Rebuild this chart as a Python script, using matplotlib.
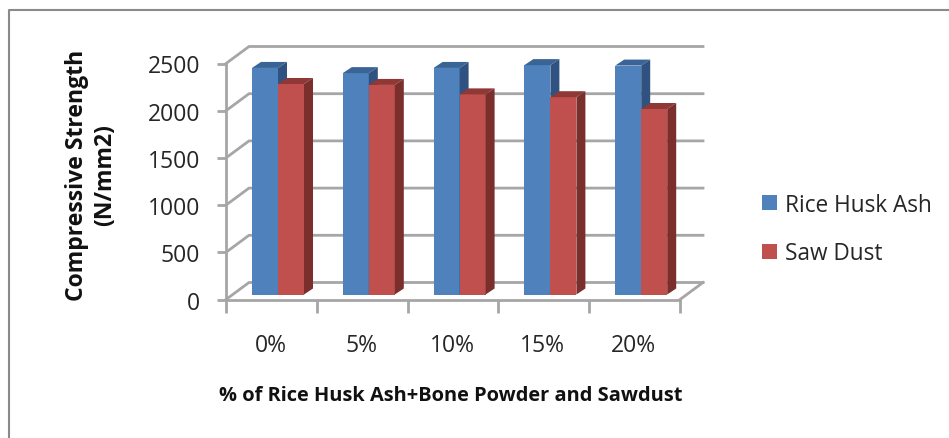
import matplotlib
matplotlib.use("Agg")
import matplotlib.pyplot as plt
from matplotlib.patches import Polygon, Rectangle

plt.rcParams["font.family"] = ["Open Sans", "DejaVu Sans"]

W, H = 949, 439

categories = ["0%", "5%", "10%", "15%", "20%"]
rice_husk = [2400, 2345, 2400, 2430, 2425]
saw_dust = [2230, 2220, 2120, 2090, 1965]
y_ticks = [0, 500, 1000, 1500, 2000, 2500]

GRID = "#a6a6a6"
TEXT = "#262626"
BLUE, BLUE_TOP, BLUE_SIDE = "#4f81bd", "#3a6496", "#2f5280"
RED, RED_TOP, RED_SIDE = "#c0504d", "#8f3836", "#7a2f2d"

# depth of the fake 3d box, in data units (px / scale)
X_SCALE = 90.8
Y_SCALE = 236 / 2500
DX = 23 / X_SCALE
DY = 17 / Y_SCALE
# bars sit a little way into the box
BAR_DX = 9 / X_SCALE
BAR_DY = 6 / Y_SCALE
BASE = 5 / Y_SCALE
BAR_W = 26 / X_SCALE
BAR_START = 26 / X_SCALE


def px_axes(left, top, right, bottom):
    return [left / W, 1 - bottom / H, (right - left) / W, (bottom - top) / H]


fig = plt.figure(figsize=(W / 100, H / 100), dpi=100, facecolor="white")
ax = fig.add_axes(px_axes(226, 64.5, 680, 300.5))
ax.set_xlim(0, len(categories))
ax.set_ylim(0, 2500)
ax.patch.set_visible(False)
for s in ax.spines.values():
    s.set_visible(False)

# wall and floor lines
for v in y_ticks:
    ax.plot([0, DX, len(categories) + DX], [v, v + DY, v + DY], color=GRID, lw=2,
            clip_on=False, zorder=1, solid_joinstyle="miter")
ax.plot([len(categories), len(categories) + DX], [0, DY], color=GRID, lw=2, clip_on=False, zorder=1)
ax.plot([0, len(categories)], [0, 0], color=GRID, lw=2, clip_on=False, zorder=2)
ax.plot([0, 0], [0, 2500], color=GRID, lw=2, clip_on=False, zorder=2)

ax.set_xticks(range(len(categories) + 1))
ax.set_xticklabels([])
ax.set_yticks(y_ticks)
ax.set_yticklabels([str(v) for v in y_ticks], fontsize=16.5, color=TEXT)
ax.tick_params(axis="x", length=9, width=2, color=GRID, direction="out", pad=0)
ax.tick_params(axis="y", length=6.5, width=2, color=GRID, direction="out", pad=12)
for i, c in enumerate(categories):
    ax.annotate(c, (i + 0.5, 0), xytext=(-1, -52), textcoords="offset pixels", ha="center",
                va="baseline", fontsize=16.5, color=TEXT, annotation_clip=False)


def draw_bar(x, val, front, top, side, z):
    ax.bar(x, val, BAR_W, bottom=BASE, align="edge", color=front, zorder=z, clip_on=False)
    t = BASE + val
    ax.add_patch(Polygon([(x, t), (x + BAR_DX, t + BAR_DY), (x + BAR_W + BAR_DX, t + BAR_DY), (x + BAR_W, t)],
                         closed=True, fc=top, ec="none", zorder=z, clip_on=False))
    ax.add_patch(Polygon([(x + BAR_W, BASE), (x + BAR_W + BAR_DX, BASE + BAR_DY),
                          (x + BAR_W + BAR_DX, t + BAR_DY), (x + BAR_W, t)],
                         closed=True, fc=side, ec="none", zorder=z, clip_on=False))


for i in range(len(categories)):
    x = i + BAR_START
    draw_bar(x, rice_husk[i], BLUE, BLUE_TOP, BLUE_SIDE, 3 + i * 2)
    draw_bar(x + BAR_W, saw_dust[i], RED, RED_TOP, RED_SIDE, 4 + i * 2)

fig.text(91 / W, 1 - 175 / H, "Compressive Strength\n(N/mm2)", rotation=90, ha="center", va="center",
         multialignment="center", fontsize=16.6, fontweight="bold", color="#111111", linespacing=1.25)
fig.text(451 / W, 1 - 396 / H, "% of Rice Husk Ash+Bone Powder and Sawdust", ha="center", va="center",
         fontsize=14.4, fontweight="bold", color="#111111")

# legend drawn by hand to keep the swatch spacing
for label, col, yy in [("Rice Husk Ash", BLUE, 204), ("Saw Dust", RED, 253)]:
    fig.add_artist(Rectangle((762 / W, 1 - (yy + 7) / H), 15 / W, 15 / H, fc=col, ec="none",
                             transform=fig.transFigure))
    fig.text(785 / W, 1 - (yy + 1.5) / H, label, ha="left", va="center", fontsize=16.3, color=TEXT)

# outer frame of the chart area: only left and top show in the crop
frame_x = [9 / W, 9 / W, 1]
frame_y = [0, 1 - 10.5 / H, 1 - 10.5 / H]
fig.add_artist(plt.Line2D(frame_x, frame_y, color="#8a8a8a", lw=1.5, transform=fig.transFigure))

fig.savefig("out.png", dpi=100)
